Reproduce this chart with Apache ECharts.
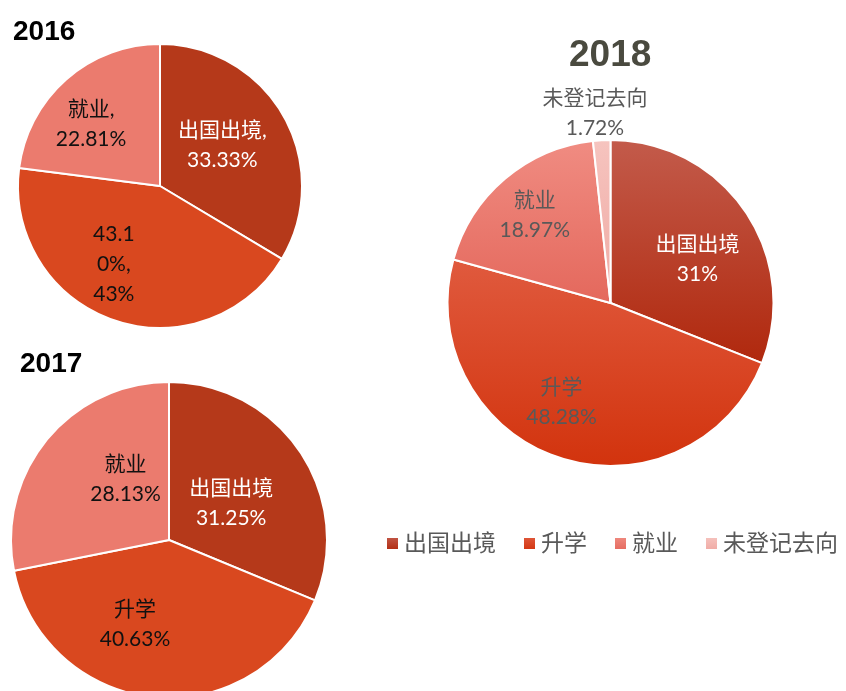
<!DOCTYPE html>
<html><head><meta charset="utf-8">
<script src="https://cdn.jsdelivr.net/npm/echarts@6/dist/echarts.min.js"></script>
<style>html,body{margin:0;padding:0;background:#fff}#c{width:846px;height:691px}</style>
</head><body><div id="c"></div>
<script>
// ---- data ----
const categories = ['出国出境', '升学', '就业', '未登记去向'];
const years = ['2016', '2017', '2018'];
const values2016 = [33.33, 43.10, 22.81];
const values2017 = [31.25, 40.63, 28.13];
const values2018 = [31, 48.28, 18.97, 1.72];
const labels2016 = ['出国出境,\n33.33%', '43.1\n0%,\n43%', '就业,\n22.81%'];
const labels2017 = ['出国出境\n31.25%', '升学\n40.63%', '就业\n28.13%'];
const labels2018 = ['出国出境\n31%', '升学\n48.28%', '就业\n18.97%', '未登记去向\n1.72%'];

// ---- styles ----
const FONT = 'Lato, "Noto Sans CJK SC", sans-serif';
const solidColors = ['#B5391A', '#D9481F', '#EB7B6E', '#F4BDB8'];
const grad = (a, b) => ({type: 'linear', x: 0, y: 0, x2: 0, y2: 1, colorStops: [{offset: 0, color: a}, {offset: 1, color: b}]});
const gradColors = [grad('#C35B4B', '#B0280D'), grad('#E05A3E', '#D2330D'), grad('#F08C82', '#E4685C'), grad('#F6C4BF', '#EFA9A3')];
const off2016 = [[-2, -4], [-22, 8], [-20, -6]];
const off2017 = [[-6, 9], [-26, 3], [20, -9]];
const off2018 = [[17, 4], [-22, 19], [-21, -23], [-11, -105]];
const txt1 = ['#ffffff', '#111111', '#111111'];
const txt2 = ['#ffffff', '#595959', '#595959', '#595959'];

function build(vals, labels, colors, offs, txtCols) {
  return vals.map((v, i) => ({
    name: categories[i], value: v,
    itemStyle: {color: colors[i]},
    label: {formatter: labels[i], offset: offs[i], color: txtCols[i]}
  }));
}

function pieSeries(name, center, r, data) {
  return {
    type: 'pie', name, center, radius: r, startAngle: 90, clockwise: true,
    animation: false, silent: true,
    itemStyle: {borderColor: '#ffffff', borderWidth: 2},
    label: {show: true, position: 'inside', fontFamily: FONT, fontSize: 21, lineHeight: 30, align: 'center'},
    labelLine: {show: false},
    data
  };
}

const chart = echarts.init(document.getElementById('c'), null, {renderer: 'canvas'});
chart.setOption({
  backgroundColor: '#ffffff',
  title: [
    {text: years[0], left: 8, top: 13, textStyle: {fontFamily: 'Liberation Sans, sans-serif', fontWeight: 'bold', fontSize: 28, color: '#000'}},
    {text: years[1], left: 15, top: 345, textStyle: {fontFamily: 'Liberation Sans, sans-serif', fontWeight: 'bold', fontSize: 28, color: '#000'}},
    {text: years[2], left: 564, top: 32, textStyle: {fontFamily: 'Liberation Sans, sans-serif', fontWeight: 'bold', fontSize: 37, color: '#4A4A3F'}}
  ],
  legend: {
    left: 385, top: 532, padding: 0, itemWidth: 13, itemHeight: 13, itemGap: 26,
    icon: 'rect',
    textStyle: {fontFamily: FONT, fontSize: 23, color: '#595959'},
    data: categories.map((c, i) => ({name: c, itemStyle: {color: gradColors[i]}}))
  },
  series: [
    pieSeries('2016', [160, 186], 142, build(values2016, labels2016, solidColors, off2016, txt1)),
    pieSeries('2017', [169, 540], 158, build(values2017, labels2017, solidColors, off2017, txt1)),
    pieSeries('2018', [610.5, 303], 163, build(values2018, labels2018, gradColors, off2018, txt2))
  ]
});
</script></body></html>
